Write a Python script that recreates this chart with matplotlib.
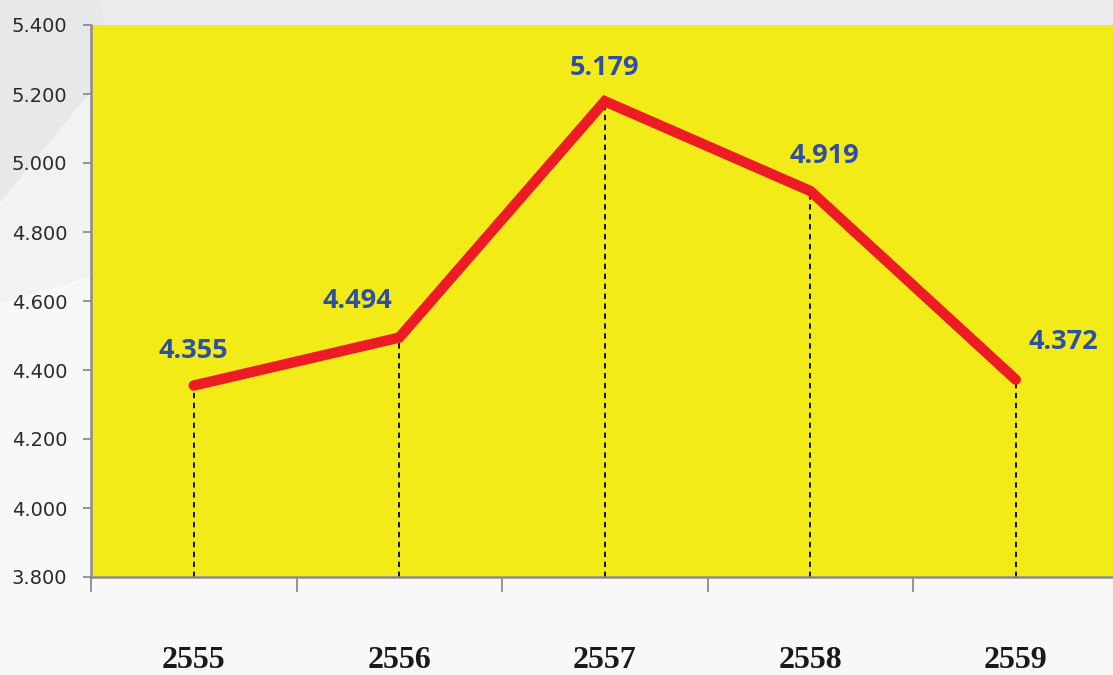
import matplotlib
matplotlib.use("Agg")
import matplotlib.pyplot as plt
from matplotlib.patches import Polygon

years = ["2555", "2556", "2557", "2558", "2559"]
values = [4.355, 4.494, 5.179, 4.919, 4.372]
value_labels = ["4.355", "4.494", "5.179", "4.919", "4.372"]
y_ticks = [3.8, 4.0, 4.2, 4.4, 4.6, 4.8, 5.0, 5.2, 5.4]

# label offsets in points (dx, dy)
label_offsets = [(0, 25), (-30, 26), (0, 24), (10, 25), (34, 27)]

fig = plt.figure(figsize=(11.13, 6.75), dpi=100)
fig.patch.set_facecolor("#f8f8f8")

# faint background shapes (behind everything)
bg = [
    ([(0, 1), (1, 1), (1, 0.96), (0, 0.96)], "#ebebee"),
    ([(0, 1), (0.09, 1), (0.1, 0.9), (0, 0.7)], "#e8e8ea"),
    ([(0, 0.70), (0.1, 0.9), (0.1, 0.6), (0, 0.55)], "#f2f2f3"),
]
for pts, c in bg:
    fig.patches.append(Polygon(pts, closed=True, transform=fig.transFigure,
                               facecolor=c, edgecolor="none", zorder=-5))

ax = fig.add_axes([91 / 1113, 98 / 675, 1027.5 / 1113, 552 / 675])
ax.set_facecolor("#f3eb18")

x = list(range(len(years)))
ax.plot(x, values, color="#ed1c24", linewidth=7.5, solid_capstyle="round",
        solid_joinstyle="miter", zorder=3)
ax.vlines(x, 3.8, values, colors="black", linestyles=(0, (3, 2.5)),
          linewidth=1.3, zorder=2)

for xi, v, lab, off in zip(x, values, value_labels, label_offsets):
    ax.annotate(lab, (xi, v), xytext=off, textcoords="offset points",
                ha="center", va="center", fontsize=19.5, fontweight="bold",
                family="Open Sans", color="#2f4fa3", zorder=4)

ax.set_xlim(-0.5, 4.5)
ax.set_ylim(3.8, 5.4)
ax.set_yticks(y_ticks)
ax.set_yticklabels([f"{t:.3f}" for t in y_ticks])
ax.tick_params(axis="y", direction="out", length=6, width=1.3, color="#8c8c8c",
               pad=11, labelsize=14, labelcolor="#2a2a2a")

ax.set_xticks([-0.5, 0.5, 1.5, 2.5, 3.5])
ax.set_xticklabels([])
ax.tick_params(axis="x", which="major", direction="out", length=11, width=1.3,
               color="#8c8c8c")
ax.set_xticks(x, minor=True)
ax.set_xticklabels(years, minor=True)
ax.tick_params(axis="x", which="minor", length=0, pad=50)
for t in ax.get_xticklabels(minor=True):
    t.set_fontfamily("Liberation Serif")
    t.set_fontweight("bold")
    t.set_fontsize(23)
    t.set_color("#1a1a1a")

for s in ["top", "right"]:
    ax.spines[s].set_visible(False)
for s in ["left", "bottom"]:
    ax.spines[s].set_color("#8c8c8c")
    ax.spines[s].set_linewidth(1.8)

fig.savefig("out.png", dpi=100, facecolor=fig.get_facecolor())
